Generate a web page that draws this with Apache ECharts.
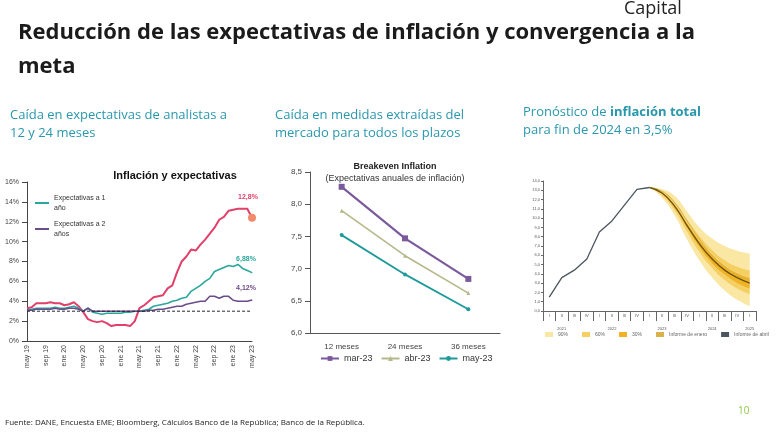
<!DOCTYPE html>
<html><head><meta charset="utf-8">
<script src="https://cdn.jsdelivr.net/npm/echarts@6/dist/echarts.min.js"></script>
<style>html,body{margin:0;padding:0;background:#fff}#c{width:777px;height:434px}</style>
</head><body><div id="c"></div>
<script>
// ---- Left chart data (monthly, may-19 .. may-23)
const monthNames = ['ene','feb','mar','abr','may','jun','jul','ago','sep','oct','nov','dic'];
const months = [];
for (let y = 19; y <= 23; y++) for (let m = 0; m < 12; m++) { if ((y === 19 && m < 4) || (y === 23 && m > 4)) continue; months.push(monthNames[m] + ' ' + y); }
const inflation = [3.3,3.4,3.8,3.8,3.8,3.9,3.8,3.8,3.6,3.7,3.9,3.5,2.9,2.2,2.0,1.9,2.0,1.8,1.5,1.6,1.6,1.6,1.5,2.0,3.3,3.6,4.0,4.4,4.5,4.6,5.3,5.6,6.9,8.0,8.5,9.2,9.1,9.7,10.2,10.8,11.4,12.2,12.5,13.1,13.2,13.3,13.3,13.3,12.4];
const exp1 = [3.1,3.2,3.3,3.3,3.3,3.3,3.4,3.3,3.3,3.4,3.5,3.3,3.0,3.3,2.9,2.8,2.7,2.8,2.8,2.8,2.8,2.9,2.9,3.0,3.0,3.1,3.2,3.5,3.6,3.7,3.8,4.0,4.1,4.3,4.4,5.0,5.3,5.6,6.0,6.3,7.0,7.2,7.4,7.6,7.5,7.7,7.3,7.1,6.88];
const exp2 = [3.1,3.1,3.2,3.2,3.2,3.2,3.3,3.2,3.2,3.3,3.3,3.2,3.0,3.3,3.0,3.0,3.0,3.0,3.0,3.0,3.0,3.0,3.0,3.0,3.0,3.0,3.1,3.1,3.2,3.2,3.3,3.4,3.5,3.5,3.7,3.8,3.9,4.0,4.0,4.5,4.5,4.3,4.5,4.5,4.1,4.0,4.0,4.0,4.12];
const target = 3;
const endLabels = ['12,8%','6,88%','4,12%'];
// ---- Middle chart data
const tenors = ['12 meses','24 meses','36 meses'];
const mar23 = [8.27,7.47,6.84];
const abr23 = [7.90,7.20,6.62];
const may23 = [7.52,6.91,6.37];
// ---- Right chart data (quarterly 2021Q1 .. 2025Q1)
const quarters = ['I','II','III','IV','I','II','III','IV','I','II','III','IV','I','II','III','IV','I'];
const qYears = ['2021','2021','2021','2021','2022','2022','2022','2022','2023','2023','2023','2023','2024','2024','2024','2024','2025'];
const history = [1.5,3.6,4.4,5.6,8.5,9.7,11.4,13.1,13.3];
const center = [13.3,12.7,11.3,9.2,7.2,5.6,4.4,3.6,3.0];
const january = [13.3,12.9,11.7,9.7,7.7,6.0,4.8,3.9,3.3];
const lo90 = [13.3,12.2,10.3,7.7,5.4,3.6,2.2,1.2,0.5];
const lo60 = [13.3,12.4,10.8,8.5,6.3,4.6,3.3,2.4,1.8];
const lo30 = [13.3,12.6,11.1,8.9,6.8,5.1,3.9,3.0,2.4];
const hi30 = [13.3,12.8,11.5,9.5,7.6,6.1,4.9,4.1,3.6];
const hi60 = [13.3,12.9,11.8,9.9,8.1,6.6,5.5,4.8,4.4];
const hi90 = [13.3,13.1,12.4,10.7,9.0,7.8,7.0,6.5,6.2];

const pad = n => Array(n).fill('-');
const diff = (a,b) => a.map((v,i)=> +(v-b[i]).toFixed(2));
const off = 8;
const histFull = history.concat(pad(quarters.length - history.length));
const fc = arr => pad(off).concat(arr);

const chart = echarts.init(document.getElementById('c'));
const ax = {color:'#444', fontSize:7, fontFamily:'Liberation Sans'};
const lastLabel = (arr, txt, color, dx, dy) => arr.map((v,i)=> i===arr.length-1 ? {value:v, symbol:'circle', symbolSize:1, label:{show:true, formatter:txt, position:'top', color, fontSize:7, fontWeight:'bold', offset:[dx,dy]}} : v);
const bandS = (name, data, color) => ({name, type:'line', xAxisIndex:2, yAxisIndex:2, stack:'fan', smooth:true, data:fc(data), symbol:'none', lineStyle:{width:0}, itemStyle:{color}, areaStyle:{color, opacity:1}, silent:true});

chart.setOption({
  animation:false,
  textStyle:{fontFamily:'Liberation Sans'},
  title:[
    {text:'Inflación y expectativas', left:170, top:165, textAlign:'center', textStyle:{fontSize:11, fontWeight:'bold', color:'#111'}},
    {text:'Breakeven Inflation', subtext:'(Expectativas anuales de inflación)', left:390, top:157, textAlign:'center', itemGap:3,
     textStyle:{fontSize:9, fontWeight:'bold', color:'#222'}, subtextStyle:{fontSize:9, color:'#333'}}
  ],
  graphic:[
    {type:'text', left:18, top:16, style:{text:'Reducción de las expectativas de inflación y convergencia a la\nmeta', font:'bold 22px "Open Sans"', fill:'#1b1b1b', lineHeight:34}},
    {type:'text', left:624, top:0, style:{text:'Capital', font:'18px "Open Sans"', fill:'#222'}},
    {type:'text', left:10, top:106, style:{text:'Caída en expectativas de analistas a\n12 y 24 meses', font:'13px "Open Sans"', fill:'#2a97ad', lineHeight:18}},
    {type:'text', left:275, top:106, style:{text:'Caída en medidas extraídas del\nmercado para todos los plazos', font:'13px "Open Sans"', fill:'#2a97ad', lineHeight:18}},
    {type:'text', left:523, top:106, style:{text:'{a|Pronóstico de }{b|inflación total}\n{a|para fin de 2024 en 3,5%}', rich:{a:{font:'13px "Open Sans"', fill:'#2a97ad', lineHeight:18}, b:{font:'bold 13px "Open Sans"', fill:'#2a97ad', lineHeight:18}}}},
    {type:'text', left:5, top:419, style:{text:'Fuente: DANE, Encuesta EME; Bloomberg, Cálculos Banco de la República; Banco de la República.', font:'8px "Open Sans"', fill:'#222'}},
    {type:'text', left:738, top:406, style:{text:'10', font:'10px "Open Sans"', fill:'#8dc63f'}}
  ],
  legend:[
    {data:['Expectativas a 1\naño','Expectativas a 2\naños'], orient:'vertical', left:30, top:188, itemWidth:14, itemHeight:2, itemGap:6, icon:'rect',
     textStyle:{fontSize:7, color:'#333', lineHeight:10}},
    {data:['mar-23','abr-23','may-23'], left:315, top:349, itemWidth:18, itemHeight:6, itemGap:8, textStyle:{fontSize:9, color:'#333'}},
    {data:[{name:'90%',icon:'rect'},{name:'60%',icon:'rect'},{name:'30%',icon:'rect'},{name:'Informe de enero',icon:'rect'},{name:'Informe de abril',icon:'rect'}],
     left:540, top:327, width:230, itemWidth:8, itemHeight:5, itemGap:14, textStyle:{fontSize:5, color:'#666'}}
  ],
  grid:[
    {left:27, top:182, width:225, height:159},
    {left:310, top:172, width:190, height:161},
    {left:543, top:181, width:213, height:130}
  ],
  xAxis:[
    {gridIndex:0, type:'category', data:months, boundaryGap:false, axisTick:{show:false}, axisLine:{lineStyle:{color:'#444'}},
     axisLabel:Object.assign({}, ax, {rotate:90, interval:3, margin:4})},
    {gridIndex:1, type:'category', data:tenors, boundaryGap:true, axisTick:{show:false}, axisLine:{lineStyle:{color:'#555'}},
     axisLabel:{fontSize:8, color:'#444', margin:10}},
    {gridIndex:2, type:'category', data:quarters, boundaryGap:true, axisTick:{show:true, interval:0, length:10, lineStyle:{color:'#666'}}, axisLine:{lineStyle:{color:'#666'}},
     axisLabel:{fontSize:4, color:'#555', interval:0, margin:3}},
    {gridIndex:2, type:'category', data:qYears.map((y,i)=>i), position:'bottom', offset:8, boundaryGap:true, axisLine:{show:false}, axisTick:{show:false},
     axisLabel:{fontSize:4, color:'#555', interval:0, formatter:(v)=>{const i=+v; return [1,5,9,13,16].includes(i)? qYears[i] : '';}}}
  ],
  yAxis:[
    {gridIndex:0, type:'value', min:0, max:16, interval:2, splitLine:{show:false}, axisLine:{show:true, lineStyle:{color:'#444'}}, axisTick:{show:true},
     axisLabel:Object.assign({}, ax, {formatter:'{value}%'})},
    {gridIndex:1, type:'value', min:6, max:8.5, interval:0.5, splitLine:{show:false}, axisLine:{show:true, lineStyle:{color:'#555'}}, axisTick:{show:true},
     axisLabel:{fontSize:8, color:'#444', formatter:v=>v.toFixed(1).replace('.',',')}},
    {gridIndex:2, type:'value', min:0, max:14, interval:1, splitLine:{show:false}, axisLine:{show:true, lineStyle:{color:'#666'}}, axisTick:{show:true, length:2},
     axisLabel:{fontSize:4, color:'#555', margin:3, formatter:v=>v.toFixed(1).replace('.',',')}}
  ],
  series:[
    {name:'Inflación', type:'line', data:lastLabel(inflation, endLabels[0], '#e0406a', -4, -12), showSymbol:true, symbolSize:0, symbol:'none', lineStyle:{color:'#e0406a', width:2}, itemStyle:{color:'#e0406a'},
     markPoint:{symbol:'circle', symbolSize:8, itemStyle:{color:'#f08a6a'}, label:{show:false}, data:[{coord:[months.length-1, inflation[inflation.length-1]]}]}},
    {name:'Expectativas a 1\naño', type:'line', data:lastLabel(exp1, endLabels[1], '#2aa79b', -6, -5), symbol:'none', lineStyle:{color:'#2aa79b', width:1.6}, itemStyle:{color:'#2aa79b'}},
    {name:'Expectativas a 2\naños', type:'line', data:lastLabel(exp2, endLabels[2], '#6b4c8a', -6, -3), symbol:'none', lineStyle:{color:'#6b4c8a', width:1.6}, itemStyle:{color:'#6b4c8a'}},
    {name:'Meta', type:'line', data:months.map(()=>target), symbol:'none', lineStyle:{color:'#223', width:1, type:[3,2]}},

    {name:'mar-23', type:'line', xAxisIndex:1, yAxisIndex:1, data:mar23, symbol:'rect', symbolSize:6, lineStyle:{color:'#7a5a9c', width:2.2}, itemStyle:{color:'#7a5a9c'}},
    {name:'abr-23', type:'line', xAxisIndex:1, yAxisIndex:1, data:abr23, symbol:'triangle', symbolSize:4, lineStyle:{color:'#b5b98a', width:1.6}, itemStyle:{color:'#b5b98a'}},
    {name:'may-23', type:'line', xAxisIndex:1, yAxisIndex:1, data:may23, symbol:'circle', symbolSize:4, lineStyle:{color:'#1f9a9a', width:1.8}, itemStyle:{color:'#1f9a9a'}},

    bandS('base', lo90, 'rgba(0,0,0,0)'),
    bandS('90%', diff(lo60,lo90), '#fbe7a4'),
    bandS('60%', diff(lo30,lo60), '#f6cf62'),
    bandS('30%', diff(hi30,lo30), '#efb325'),
    bandS('60%', diff(hi60,hi30), '#f6cf62'),
    bandS('90%', diff(hi90,hi60), '#fbe7a4'),
    {name:'Informe de enero', type:'line', xAxisIndex:2, yAxisIndex:2, data:fc(january), symbol:'none', smooth:true, lineStyle:{color:'#d8b24a', width:1}, itemStyle:{color:'#d8b24a'}},
    {name:'Informe de abril', type:'line', xAxisIndex:2, yAxisIndex:2, data:histFull, symbol:'none', lineStyle:{color:'#4a5560', width:1.3}, itemStyle:{color:'#4a5560'}},
    {name:'Centro', type:'line', xAxisIndex:2, yAxisIndex:2, data:fc(center), symbol:'none', smooth:true, lineStyle:{color:'#6b5410', width:1.3}}
  ]
});
</script></body></html>
